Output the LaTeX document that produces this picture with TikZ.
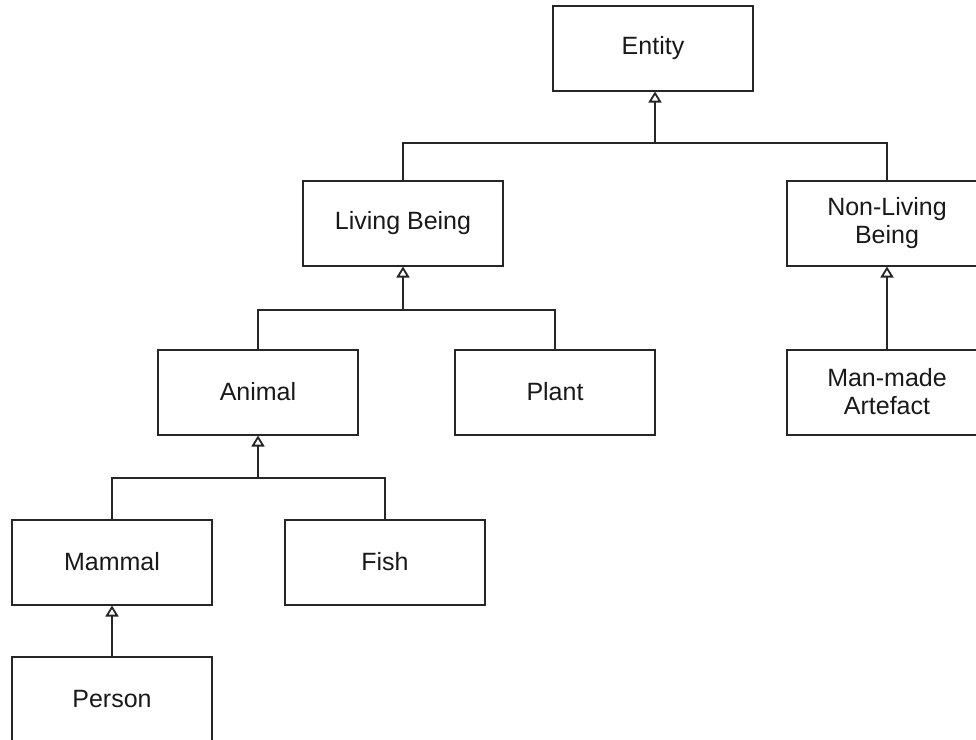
\documentclass[tikz,border=0pt]{standalone}
\usepackage{fontspec}
\setmainfont{Liberation Sans}
\usepackage{tikz}
\usetikzlibrary{arrows.meta}

\tikzset{
    classbox/.style={draw=black!85, line width=1pt, minimum width=100pt, minimum height=42.5pt,
        align=center, font=\fontsize{12.5}{14}\selectfont, text=black!90},
    isa/.style={draw=black!85, line width=0.9pt},
    isahead/.style={isa, -{Triangle[open, length=5.5pt, width=6.5pt]}}
}

\begin{document}
\begin{tikzpicture}[x=0.5pt, y=-0.5pt]
    \useasboundingbox (0,0) rectangle (976,740);

    % classes
    \node[classbox] (entity) at (653,48) {Entity};
    \node[classbox] (living) at (403,223) {Living Being};
    \node[classbox] (nonliving) at (887,223) {Non-Living\\Being};
    \node[classbox] (animal) at (258,392) {Animal};
    \node[classbox] (plant) at (555,392) {Plant};
    \node[classbox] (artefact) at (887,392) {Man-made\\Artefact};
    \node[classbox] (mammal) at (112,562) {Mammal};
    \node[classbox] (fish) at (385,562) {Fish};
    \node[classbox] (person) at (112,699) {Person};

    % junctions
    \coordinate (j1) at (655,143);
    \coordinate (j2) at (403,310);
    \coordinate (j3) at (258,478);

    % generalisation
    \draw[isa] (living.north) |- (j1) -| (nonliving.north);
    \draw[isahead] (j1) -- (j1 |- entity.south);
    \draw[isa] (animal.north) |- (j2) -| (plant.north);
    \draw[isahead] (j2) -- (living.south);
    \draw[isahead] (artefact.north) -- (nonliving.south);
    \draw[isa] (mammal.north) |- (j3) -| (fish.north);
    \draw[isahead] (j3) -- (animal.south);
    \draw[isahead] (person.north) -- (mammal.south);
\end{tikzpicture}
\end{document}
